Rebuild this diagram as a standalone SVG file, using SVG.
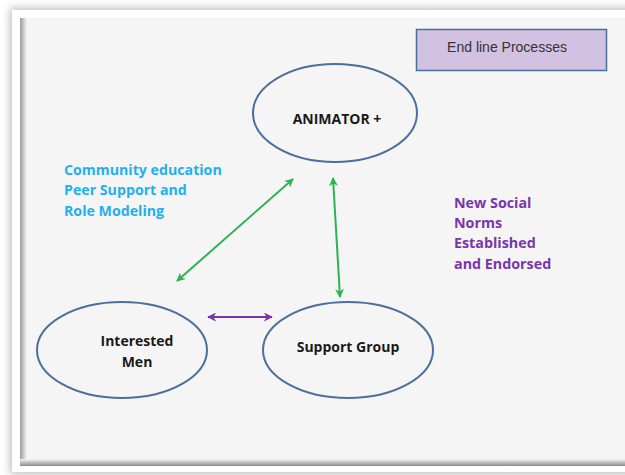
<svg xmlns="http://www.w3.org/2000/svg" width="625" height="475" viewBox="0 0 625 475">
<defs>
<style>
.node{fill:none;stroke:#4a6f9c;stroke-width:2}
.lbl{font-family:"Open Sans","Liberation Sans",sans-serif;font-weight:bold;font-size:14px;fill:#1a1a1a;text-anchor:middle}
.blue{font-family:"Open Sans","Liberation Sans",sans-serif;font-weight:bold;font-size:14.2px;fill:#1fb0ee}
.purp{font-family:"Open Sans","Liberation Sans",sans-serif;font-weight:bold;font-size:14.3px;fill:#7a35ad}
.green{stroke:#2cb352;stroke-width:2;fill:none;marker-start:url(#ga);marker-end:url(#ga)}
.violet{stroke:#7a35ad;stroke-width:2;fill:none;marker-start:url(#pa);marker-end:url(#pa)}
</style>
<marker id="ga" viewBox="0 0 10 10" refX="9" refY="5" markerWidth="4.5" markerHeight="4.5" orient="auto-start-reverse"><path d="M0,0 L10,5 L0,10 L3,5 z" fill="#2cb352"/></marker>
<marker id="pa" viewBox="0 0 10 10" refX="9" refY="5" markerWidth="4.5" markerHeight="4.5" orient="auto-start-reverse"><path d="M0,0 L10,5 L0,10 L3,5 z" fill="#7a35ad"/></marker>
<filter id="sh" x="-5%" y="-5%" width="110%" height="110%"><feGaussianBlur stdDeviation="4"/></filter>
<linearGradient id="lg" x1="0" x2="1" y1="0" y2="0"><stop offset="0" stop-color="#9a9a9a"/><stop offset="1" stop-color="#f5f5f5"/></linearGradient>
<linearGradient id="bg" x1="0" x2="0" y1="1" y2="0"><stop offset="0" stop-color="#8a8a8a"/><stop offset="1" stop-color="#f5f5f5"/></linearGradient>
</defs>
<rect width="625" height="475" fill="#ffffff"/>
<g id="frame">
<rect x="10" y="8" width="640" height="466" fill="#bdbdbd" filter="url(#sh)"/>
<rect x="12" y="10" width="640" height="462" fill="#ffffff"/>
<rect x="20" y="18" width="630" height="448" fill="#f5f5f5"/>
<rect x="20" y="18" width="7" height="448" fill="url(#lg)"/>
<rect x="20" y="459" width="630" height="7" fill="url(#bg)"/>
</g>
<g id="end-line-processes">
<rect x="416.5" y="29.5" width="190" height="41" fill="#d2c1e0" stroke="#4a6f9c" stroke-width="1.5"/>
<text x="507" y="52" font-family="Liberation Sans, Arial, sans-serif" font-size="14" fill="#333" text-anchor="middle">End line Processes</text>
</g>
<g id="animator">
<ellipse class="node" cx="335" cy="113" rx="82" ry="49"/>
<text class="lbl" x="337" y="124">ANIMATOR +</text>
</g>
<g id="interested-men">
<ellipse class="node" cx="122" cy="350" rx="85" ry="48"/>
<text class="lbl" x="137" y="346">Interested</text>
<text class="lbl" x="137" y="367">Men</text>
</g>
<g id="support-group">
<ellipse class="node" cx="348" cy="350" rx="85" ry="48"/>
<text class="lbl" x="348" y="352">Support Group</text>
</g>
<g id="connectors">
<line class="green" x1="177" y1="281" x2="293" y2="179"/>
<line class="green" x1="333" y1="178" x2="340" y2="297"/>
<line class="violet" x1="208" y1="317" x2="272" y2="317"/>
</g>
<g id="labels">
<text class="blue" x="64" y="175">Community education</text>
<text class="blue" x="64" y="195">Peer Support and</text>
<text class="blue" x="64" y="216">Role Modeling</text>
<text class="purp" x="454" y="208">New Social</text>
<text class="purp" x="454" y="228">Norms</text>
<text class="purp" x="454" y="248">Established</text>
<text class="purp" x="454" y="269">and Endorsed</text>
</g>
</svg>
